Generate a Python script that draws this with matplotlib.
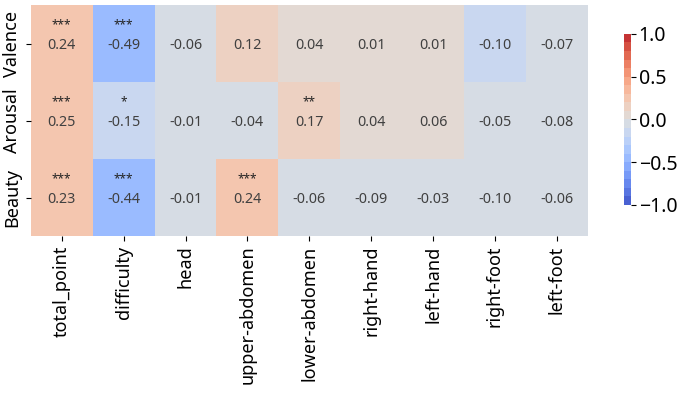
import matplotlib
matplotlib.use("Agg")
import matplotlib.pyplot as plt
import numpy as np
import seaborn as sns
from matplotlib.colors import ListedColormap

plt.rcParams["font.family"] = ["Noto Sans", "DejaVu Sans"]

rows = ["Valence", "Arousal", "Beauty"]
cols = ["total_point", "difficulty", "head", "upper-abdomen", "lower-abdomen",
        "right-hand", "left-hand", "right-foot", "left-foot"]

valence = [0.24, -0.49, -0.06, 0.12, 0.04, 0.01, 0.01, -0.102, -0.07]
arousal = [0.25, -0.15, -0.01, -0.04, 0.17, 0.04, 0.06, -0.05, -0.08]
beauty = [0.23, -0.44, -0.01, 0.24, -0.06, -0.09, -0.03, -0.098, -0.06]

stars_valence = ["***", "***", "", "", "", "", "", "", ""]
stars_arousal = ["***", "*", "", "", "**", "", "", "", ""]
stars_beauty = ["***", "***", "", "***", "", "", "", "", ""]

data = np.array([valence, arousal, beauty])
stars = [stars_valence, stars_arousal, stars_beauty]

cmap = ListedColormap(sns.color_palette("coolwarm", 20))

fig = plt.figure(figsize=(6.85, 3.98), dpi=100)
ax = fig.add_axes([0.045, 0.407, 0.813, 0.580])
cax = fig.add_axes([0.911, 0.485, 0.0102, 0.43])

sns.heatmap(data, ax=ax, cbar_ax=cax, cmap=cmap, vmin=-1, vmax=1,
            xticklabels=cols, yticklabels=rows)

text_color = "#404040"
for i in range(data.shape[0]):
    for j in range(data.shape[1]):
        ax.text(j + 0.5, i + 0.52, f"{data[i, j]:.2f}", ha="center", va="center",
                fontsize=10.3, color=text_color)
        if stars[i][j]:
            ax.text(j + 0.5, i + 0.26, stars[i][j], ha="center", va="center",
                    fontsize=8.5, color="#222222", fontweight="bold")

ax.tick_params(axis="x", labelsize=13, rotation=90, length=3.5)
ax.tick_params(axis="y", labelsize=13, rotation=90, length=3.5)
for lbl in ax.get_yticklabels():
    lbl.set_va("center")

cax.set_yticks([-1.0, -0.5, 0.0, 0.5, 1.0])
cax.tick_params(labelsize=14, length=3.5, pad=2)
for sp in cax.spines.values():
    sp.set_visible(False)

fig.savefig("out.png", dpi=100)
